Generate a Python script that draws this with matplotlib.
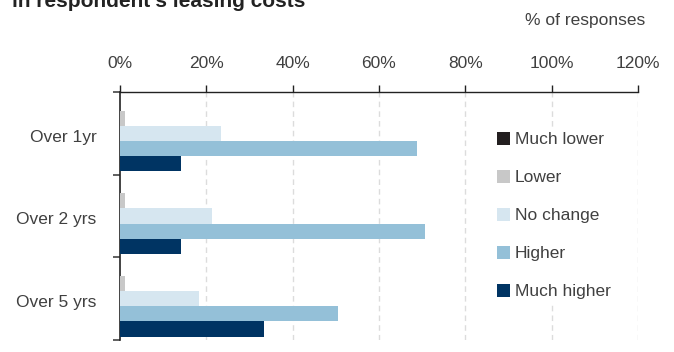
import matplotlib
matplotlib.use("Agg")
import matplotlib.pyplot as plt
from matplotlib.patches import Patch
import numpy as np

plt.rcParams['font.family'] = ['Liberation Sans', 'DejaVu Sans']

# Survey data: expected change in leasing costs, % of responses
horizons = ["Over 1yr", "Over 2 yrs", "Over 5 yrs"]
series_names = ["Much lower", "Lower", "No change", "Higher", "Much higher"]
much_lower = [0.0, 0.0, 0.0]
lower = [1.2, 1.2, 1.2]
no_change = [23.4, 21.3, 18.3]
higher = [68.8, 70.6, 50.5]
much_higher = [14.1, 14.1, 33.4]
x_ticks = [0, 20, 40, 60, 80, 100, 120]
x_tick_labels = ["0%", "20%", "40%", "60%", "80%", "100%", "120%"]

colors = ["#231f20", "#c8c8c8", "#d6e6f0", "#94c0d8", "#003463"]
text_color = "#404040"

W, H = 674, 352
fig = plt.figure(figsize=(W / 100, H / 100), dpi=100)
left, right, top, bottom = 120, 638, 92, 340
ax = fig.add_axes([left / W, 1 - bottom / H, (right - left) / W, (bottom - top) / H])

values = [much_lower, lower, no_change, higher, much_higher]
ypos = np.arange(len(horizons))
bar_h = 0.184
for k, (vals, col) in enumerate(zip(values, colors)):
    ax.barh(ypos + (k - 2) * bar_h, vals, height=bar_h, color=col, zorder=3)

ax.set_xlim(0, 120)
ax.set_ylim(2.5, -0.5)

# x axis on top
ax.xaxis.tick_top()
ax.set_xticks(x_ticks)
ax.set_xticklabels(x_tick_labels, fontsize=12.5, color=text_color)
ax.tick_params(axis='x', direction='out', length=5, width=1, color='#222222', pad=10)

# y axis: boundary ticks between groups, labels near group centres
ax.set_yticks([-0.5, 0.5, 1.5, 2.5])
ax.set_yticklabels([])
ax.set_yticks(ypos + 0.045, minor=True)
ax.set_yticklabels(horizons, minor=True, fontsize=12.5, color=text_color)
ax.tick_params(axis='y', which='major', direction='out', length=5, width=1.2, color='#444444')
ax.tick_params(axis='y', which='minor', length=0, pad=17)
for lbl in ax.get_yticklabels(minor=True):
    lbl.set_va('center')

for s in ['right', 'bottom']:
    ax.spines[s].set_visible(False)
ax.spines['top'].set_color('#222222')
ax.spines['left'].set_color('#222222')
ax.spines['top'].set_linewidth(1)
ax.spines['left'].set_linewidth(1.2)

for xv in x_ticks[1:]:
    ax.axvline(xv, color='#dcdcdc', linestyle=(0, (4, 3)), linewidth=1, zorder=1)

handles = [Patch(facecolor=c, edgecolor='none') for c in colors]
leg = ax.legend(handles, series_names, loc='upper left', bbox_to_anchor=(0.704, 0.888),
                frameon=True, fontsize=12.5, labelspacing=1.3, handlelength=0.75,
                handleheight=0.75, handletextpad=0.3, borderpad=0.2)
leg.get_frame().set_facecolor('white')
leg.get_frame().set_edgecolor('none')
leg.get_frame().set_alpha(1)
for t in leg.get_texts():
    t.set_color(text_color)

fig.text(12 / W, 1 - 7 / H, "in respondent\u2019s leasing costs", fontsize=15,
         fontweight='bold', color='#222222', va='baseline', ha='left')
fig.text(585 / W, 1 - 20 / H, "% of responses", fontsize=12.5, color=text_color,
         ha='center', va='center')

fig.savefig("out.png", dpi=100)
